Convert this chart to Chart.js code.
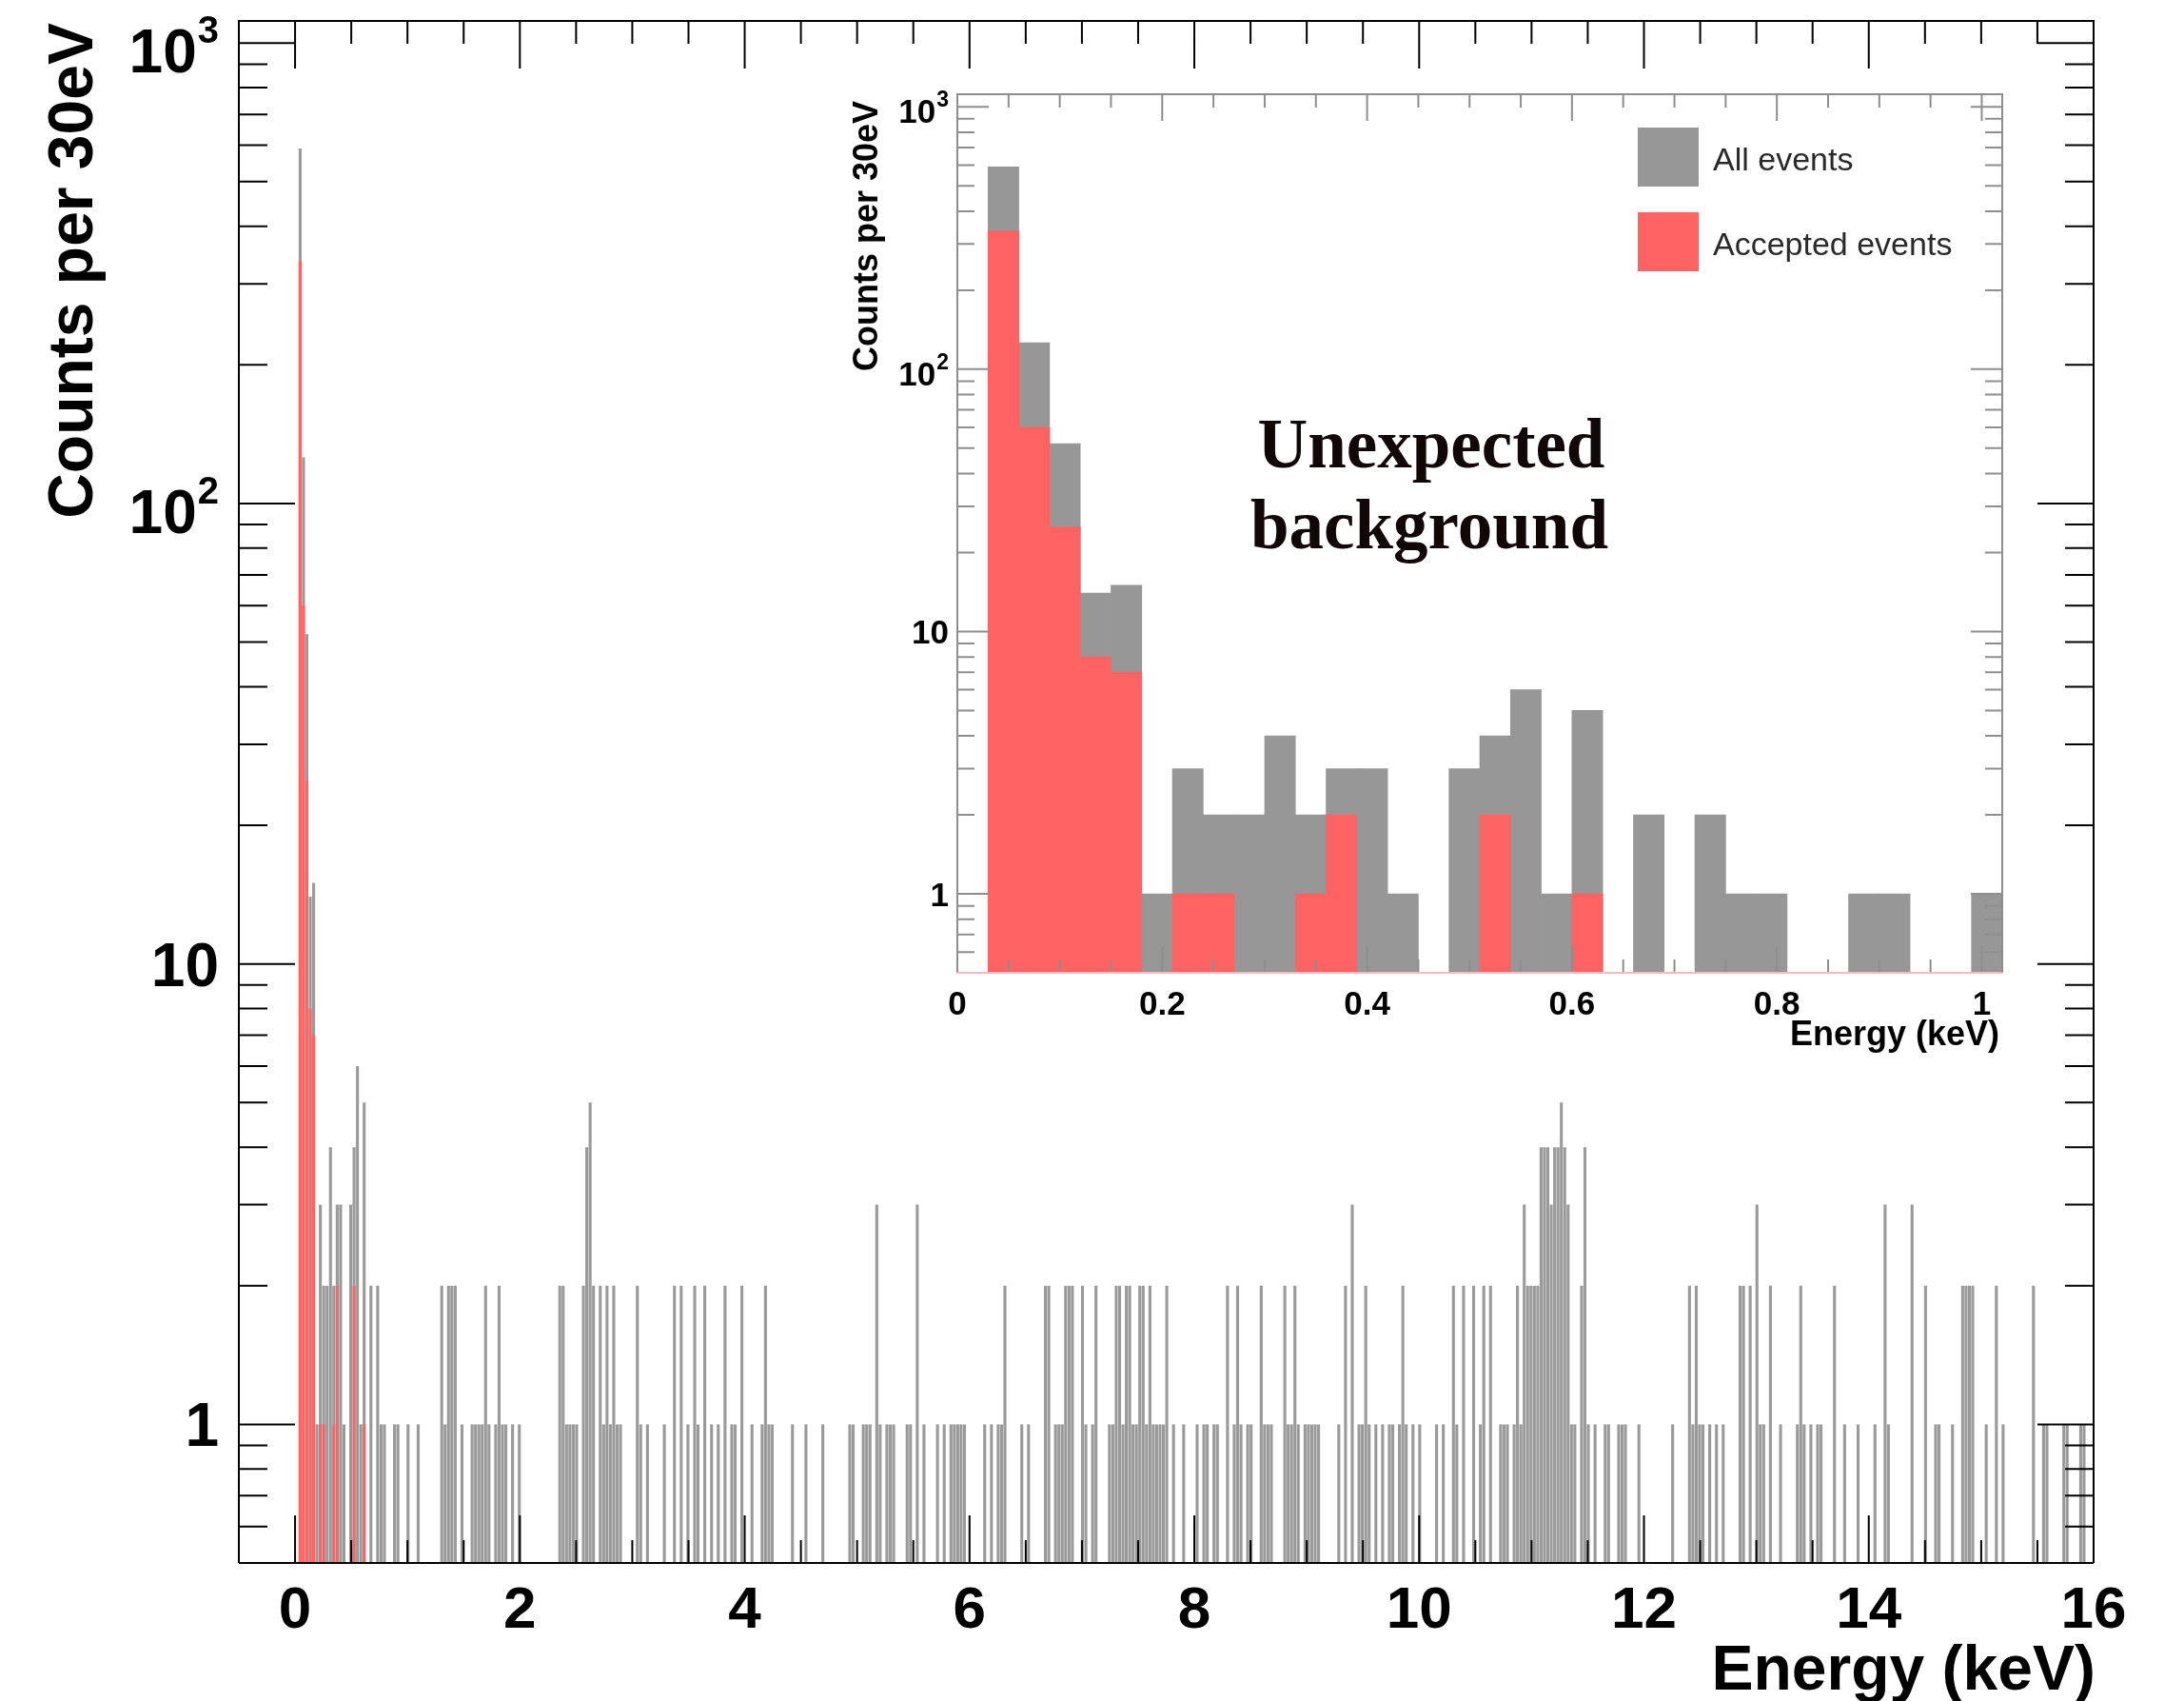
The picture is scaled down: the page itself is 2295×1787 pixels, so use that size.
<!DOCTYPE html>
<html>
<head>
<meta charset="utf-8">
<script src="https://cdn.jsdelivr.net/npm/chart.js@4.4.1/dist/chart.umd.min.js"></script>
<style>
  html, body { margin: 0; padding: 0; background: #fff; }
  #wrap { position: relative; width: 2295px; height: 1787px; overflow: hidden; }
  #main { position: absolute; left: 0; top: 0; }
  #inset { position: absolute; left: 860px; top: 60px; }
</style>
</head>
<body>
<div id="wrap">
  <canvas id="main" width="2295" height="1787"></canvas>
  <canvas id="inset" width="1260" height="1060"></canvas>
</div>
<script>
// ---------- Data (30 eV bins, bin n covers n*0.03 .. (n+1)*0.03 keV) ----------
const BIN_KEV = 0.03;

// all events: bin numbers and counts (bins not listed are empty)
const allBins = [
  1,2,3,4,5,6,7,8,9,10,11,12,13,14,16,17,18,19,20,22,24,25,26,29,30,33,
  36,43,44,45,46,47,49,52,53,54,55,56,57,59,60,61,62,64,66,78,79,80,81,82,83,85,86,87,88,90,91,92,93,94,95,96,
  101,102,104,109,112,114,116,118,119,121,123,125,127,129,130,132,135,138,139,140,141,147,151,156,164,165,168,169,170,172,173,175,176,177,181,182,184,186,190,192,194,195,196,197,198,
  204,206,208,209,210,215,217,222,223,225,226,227,228,229,230,233,234,236,237,241,242,243,244,245,246,247,248,249,250,251,252,253,254,255,256,257,258,260,263,267,269,270,272,273,276,278,279,280,282,283,286,287,288,289,293,294,295,296,297,299,
  300,301,302,303,309,311,313,315,316,317,318,320,322,324,325,327,328,329,331,333,338,340,343,344,346,349,351,352,354,357,358,359,361,362,363,364,365,366,367,368,369,370,371,372,373,374,375,376,377,378,379,381,382,383,385,388,389,392,393,394,398,
  408,413,414,415,416,417,419,421,423,428,429,431,433,434,435,437,440,445,446,447,449,451,452,456,459,463,468,471,472,479,483,486,487,491,494,495,496,497,501,504,506,515,518,519,524,525,529,530
];
const allCounts = [
  590,126,52,14,15,1,3,2,2,4,2,3,3,1,3,4,6,1,5,2,2,1,1,1,1,1,
  1,2,1,2,2,2,1,1,1,1,1,2,1,1,2,1,1,1,1,2,2,1,1,1,1,2,4,5,2,2,1,2,1,2,1,1,
  2,1,1,1,2,2,1,2,1,2,1,1,2,1,1,2,1,1,2,1,1,1,1,1,1,1,1,1,1,3,1,1,1,1,1,1,3,1,1,1,1,1,1,1,1,
  1,1,1,1,2,1,1,2,2,1,1,1,2,2,2,2,1,1,2,1,1,2,2,1,2,2,1,1,2,2,1,2,1,1,1,1,2,1,1,1,1,1,1,1,2,1,2,1,1,1,2,1,1,1,2,1,1,2,1,1,
  1,1,1,1,1,2,3,1,1,2,1,1,1,1,1,1,2,1,1,1,1,1,2,1,2,2,1,2,2,1,1,1,1,2,1,3,2,2,2,2,4,4,4,3,4,4,5,4,3,1,1,2,4,1,1,1,1,1,1,1,1,
  1,2,1,2,1,1,1,1,1,2,2,2,3,1,1,2,1,1,2,1,1,1,1,2,1,1,1,3,1,3,2,1,1,1,2,2,2,2,1,2,1,2,1,1,1,1,1,1
];

// accepted events
const accBins   = [1,2,3,4,5,7,8,11,12,17,20];
const accCounts = [336,60,25,8,7,1,1,1,2,2,1];

const mainXTicks  = [0,2,4,6,8,10,12,14,16];
const mainXLabels = ['0','2','4','6','8','10','12','14','16'];
const yTickValues = [1,10,100,1000];
const yTickBase   = ['1','10','10','10'];
const yTickExp    = ['','','2','3'];
const insetXTicks  = [0,0.2,0.4,0.6,0.8,1];
const insetXLabels = ['0','0.2','0.4','0.6','0.8','1'];
const INSET_MAX_KEV = 1.02;

// ---------- Helpers ----------
const SANS = "'Liberation Sans', Arial, sans-serif";
const SERIF = "'Liberation Serif', 'Times New Roman', serif";
Chart.defaults.font.family = SANS;

function histPoints(bins, counts, maxKeV){
  const pts = [];
  bins.forEach((b, i) => {
    const x = (b + 0.5) * BIN_KEV;
    if (maxKeV === undefined || x < maxKeV) pts.push({ x, y: counts[i] });
  });
  return pts;
}

// frame + inward ticks on all four sides (ROOT style)
function axisDecor(cfg){
  return {
    id: 'axisDecor',
    afterDatasetsDraw(chart){
      const { ctx, chartArea: a } = chart;
      const xs = chart.scales.x, ys = chart.scales.y;
      ctx.save();
      ctx.lineWidth = cfg.lineWidth;
      ctx.strokeStyle = cfg.color;
      ctx.beginPath();
      const n = Math.round((xs.max - cfg.xMinorFrom) / cfg.xMinorStep);
      for (let i = 0; i <= n; i++) {
        const v = cfg.xMinorFrom + i * cfg.xMinorStep;
        if (v > xs.max + 1e-9) break;
        const major = cfg.xMajor.some(m => Math.abs(m - v) < 1e-6);
        const len = major ? cfg.xMajorLen : cfg.xMinorLen;
        const px = xs.getPixelForValue(v);
        ctx.moveTo(px, a.bottom); ctx.lineTo(px, a.bottom - len);
        ctx.moveTo(px, a.top);    ctx.lineTo(px, a.top + len);
      }
      const d0 = Math.floor(Math.log10(ys.min)), d1 = Math.ceil(Math.log10(ys.max));
      for (let d = d0; d <= d1; d++) {
        for (let m = 1; m <= 9; m++) {
          const v = m * Math.pow(10, d);
          if (v < ys.min || v > ys.max) continue;
          const len = m === 1 ? cfg.yMajorLen : cfg.yMinorLen;
          const py = ys.getPixelForValue(v);
          ctx.moveTo(a.left, py);  ctx.lineTo(a.left + len, py);
          ctx.moveTo(a.right, py); ctx.lineTo(a.right - len, py);
        }
      }
      ctx.stroke();
      ctx.beginPath();
      ctx.moveTo(a.left, a.bottom); ctx.lineTo(a.left, a.top);
      ctx.lineTo(a.right, a.top); ctx.lineTo(a.right, a.bottom);
      ctx.stroke();
      ctx.strokeStyle = cfg.bottomColor || cfg.color;
      ctx.beginPath();
      ctx.moveTo(a.left, a.bottom); ctx.lineTo(a.right, a.bottom);
      ctx.stroke();
      ctx.restore();
    }
  };
}

// y labels like 10^3 with a raised exponent, placed on the log scale ticks
function expLabels(cfg){
  return {
    id: 'expLabels',
    afterDraw(chart){
      const ctx = chart.ctx, ys = chart.scales.y;
      ctx.save();
      ctx.fillStyle = '#000';
      ctx.textAlign = 'right';
      ctx.textBaseline = 'alphabetic';
      yTickValues.forEach((v, i) => {
        const py = ys.getPixelForValue(v);
        const base = yTickBase[i], exp = yTickExp[i];
        if (exp) {
          ctx.font = `bold ${cfg.expSize}px ${SANS}`;
          const ew = ctx.measureText(exp).width;
          ctx.fillText(exp, cfg.right, py + cfg.expDy);
          ctx.font = `bold ${cfg.size}px ${SANS}`;
          ctx.fillText(base, cfg.right - ew - cfg.gap, py + cfg.baseDyExp);
        } else {
          ctx.font = `bold ${cfg.size}px ${SANS}`;
          ctx.fillText(base, cfg.right, py + cfg.baseDy);
        }
      });
      ctx.restore();
    }
  };
}

// free text (axis titles, annotation)
function textDecor(items){
  return {
    id: 'textDecor',
    afterDraw(chart){
      const ctx = chart.ctx;
      items.forEach(t => {
        ctx.save();
        ctx.font = t.font;
        ctx.fillStyle = t.color || '#000';
        ctx.textAlign = t.align || 'left';
        ctx.textBaseline = 'alphabetic';
        ctx.translate(t.x, t.y);
        if (t.rotate) ctx.rotate(t.rotate);
        ctx.fillText(t.text, 0, 0);
        ctx.restore();
      });
    }
  };
}

// box legend drawn from the datasets
function boxLegend(cfg){
  return {
    id: 'boxLegend',
    afterDraw(chart){
      const ctx = chart.ctx;
      ctx.save();
      chart.data.datasets.forEach((ds, i) => {
        const top = cfg.top + i * cfg.step;
        ctx.fillStyle = ds.backgroundColor;
        ctx.fillRect(cfg.left, top, cfg.boxW, cfg.boxH);
        ctx.fillStyle = cfg.color;
        ctx.font = cfg.font;
        ctx.textBaseline = 'alphabetic';
        ctx.fillText(ds.label, cfg.textX, top + cfg.textDy);
      });
      ctx.restore();
    }
  };
}

function histChart(canvas, o){
  const barOpts = { grouped: false, categoryPercentage: 1, barPercentage: o.barPct, borderWidth: 0 };
  return new Chart(canvas, {
    type: 'bar',
    data: {
      datasets: [
        { label: 'All events', data: histPoints(allBins, allCounts, o.maxKeV), backgroundColor: o.grey, order: 2, ...barOpts },
        { label: 'Accepted events', data: histPoints(accBins, accCounts, o.maxKeV), backgroundColor: o.red, order: 1, ...barOpts }
      ]
    },
    options: {
      responsive: false, animation: false, events: [], devicePixelRatio: 1,
      layout: { autoPadding: false, padding: o.padding },
      plugins: { legend: { display: false }, tooltip: { enabled: false } },
      scales: {
        x: {
          type: 'linear', min: o.xMin, max: o.xMax, offset: false,
          grid: { display: false }, border: { display: false },
          afterBuildTicks: s => { s.ticks = o.xTicks.map(v => ({ value: v })); },
          afterFit: s => { s.height = o.xAxisH; s.paddingLeft = 0; s.paddingRight = 0; },
          ticks: { autoSkip: false, maxRotation: 0, minRotation: 0, padding: o.xPad, color: '#000',
                   font: { size: o.tickSize, weight: 'bold' }, callback: (v, i) => o.xLabels[i] }
        },
        y: {
          type: 'logarithmic', min: 0.5, max: 1117,
          grid: { display: false }, border: { display: false },
          afterBuildTicks: s => { s.ticks = yTickValues.map(v => ({ value: v })); },
          afterFit: s => { s.width = o.yAxisW; s.paddingTop = 0; s.paddingBottom = 0; },
          ticks: { display: false }
        }
      }
    },
    plugins: o.plugins
  });
}

// ---------- Main chart ----------
histChart(document.getElementById('main'), {
  grey: '#9a9a9a', red: '#ff6464', barPct: 0.88,
  xMin: -0.5, xMax: 16, xTicks: mainXTicks, xLabels: mainXLabels,
  padding: { left: 0, top: 22, right: 95, bottom: 0 },
  xAxisH: 145, yAxisW: 251, xPad: 6, tickSize: 62,
  plugins: [
    axisDecor({ color: '#000', lineWidth: 2, xMinorFrom: -0.5, xMinorStep: 0.5, xMajor: mainXTicks,
                xMajorLen: 50, xMinorLen: 24, yMajorLen: 59, yMinorLen: 30 }),
    expLabels({ right: 230, size: 64, expSize: 40, gap: 1, baseDy: 23, baseDyExp: 31, expDy: 0 }),
    textDecor([
      { text: 'Energy (keV)', x: 2202, y: 1775, align: 'right', font: `bold 66px ${SANS}` },
      { text: 'Counts per 30eV', x: 97, y: 24, align: 'right', rotate: -Math.PI / 2, font: `bold 66px ${SANS}` }
    ])
  ]
});

// ---------- Inset (0 - 1 keV) ----------
histChart(document.getElementById('inset'), {
  grey: '#979797', red: '#fd6363', barPct: 1, maxKeV: INSET_MAX_KEV,
  xMin: 0, xMax: INSET_MAX_KEV, xTicks: insetXTicks, xLabels: insetXLabels,
  padding: { left: 0, top: 39, right: 16, bottom: 0 },
  xAxisH: 98, yAxisW: 146, xPad: 5, tickSize: 35,
  plugins: [
    axisDecor({ color: '#8e8e8e', bottomColor: '#f4bcbc', lineWidth: 2, xMinorFrom: 0, xMinorStep: 0.05,
                xMajor: insetXTicks, xMajorLen: 28, xMinorLen: 14, yMajorLen: 33, yMinorLen: 18 }),
    expLabels({ right: 137, size: 35, expSize: 23, gap: 1, baseDy: 12.5, baseDyExp: 17, expDy: 0 }),
    boxLegend({ left: 861, top: 74, step: 89, boxW: 64, boxH: 62, textX: 940, textDy: 45,
                font: `34px ${SANS}`, color: '#2a2a2a' }),
    textDecor([
      { text: 'Energy (keV)', x: 1241, y: 1038, align: 'right', font: `bold 36px ${SANS}` },
      { text: 'Counts per 30eV', x: 62, y: 46, align: 'right', rotate: -Math.PI / 2, font: `bold 36px ${SANS}` },
      { text: 'Unexpected', x: 644, y: 431, align: 'center', font: `bold 73px ${SERIF}`, color: '#120707' },
      { text: 'background', x: 642, y: 516, align: 'center', font: `bold 73px ${SERIF}`, color: '#120707' }
    ])
  ]
});
</script>
</body>
</html>
